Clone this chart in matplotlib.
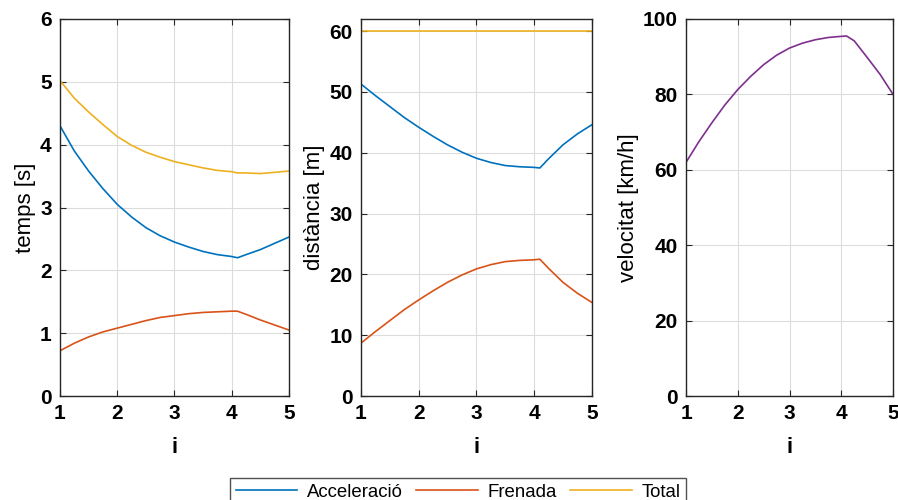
import numpy as np
import matplotlib.pyplot as plt

plt.rcParams['font.family'] = ['Liberation Sans', 'DejaVu Sans']

# valors per cada i
i_vals = [1, 1.25, 1.5, 1.75, 2, 2.25, 2.5, 2.75, 3, 3.25, 3.5, 3.75, 4, 4.1,
          4.25, 4.5, 4.75, 5]

t_acc = [4.30, 3.90, 3.58, 3.30, 3.05, 2.85, 2.68, 2.55, 2.45, 2.37, 2.30, 2.25,
         2.22, 2.20, 2.25, 2.33, 2.43, 2.53]
t_fren = [0.72, 0.84, 0.94, 1.02, 1.08, 1.14, 1.20, 1.25, 1.28, 1.31, 1.33, 1.34,
          1.35, 1.35, 1.30, 1.21, 1.13, 1.05]
t_total = [5.02, 4.74, 4.52, 4.32, 4.13, 3.99, 3.88, 3.80, 3.73, 3.68, 3.63, 3.59,
           3.57, 3.55, 3.55, 3.54, 3.56, 3.58]

d_acc = [51.3, 49.4, 47.6, 45.8, 44.2, 42.7, 41.3, 40.1, 39.1, 38.4, 37.9, 37.7,
         37.6, 37.5, 39.0, 41.3, 43.1, 44.6]
d_fren = [8.7, 10.6, 12.4, 14.2, 15.8, 17.3, 18.7, 19.9, 20.9, 21.6, 22.1, 22.3,
          22.4, 22.5, 21.0, 18.7, 16.9, 15.4]
d_total = [60, 60, 60, 60, 60, 60, 60, 60, 60, 60, 60, 60, 60, 60, 60, 60, 60, 60]

vel = [62.0, 67.5, 72.5, 77.2, 81.3, 84.8, 87.9, 90.4, 92.3, 93.6, 94.5, 95.1,
       95.4, 95.5, 94.2, 89.8, 85.3, 80.0]

c_acc = '#0072BD'
c_fren = '#D95319'
c_tot = '#EDB120'
c_vel = '#7E2F8E'

fig = plt.figure(figsize=(8.98, 5.0), dpi=100)
ax1 = fig.add_axes([0.0668, 0.208, 0.255, 0.754])
ax2 = fig.add_axes([0.402, 0.208, 0.257, 0.754])
ax3 = fig.add_axes([0.764, 0.208, 0.2305, 0.754])

l1, = ax1.plot(i_vals, t_acc, color=c_acc, lw=1.2, label='Acceleració')
l2, = ax1.plot(i_vals, t_fren, color=c_fren, lw=1.2, label='Frenada')
l3, = ax1.plot(i_vals, t_total, color=c_tot, lw=1.2, label='Total')
ax1.set_ylim(0, 6)
ax1.set_ylabel('temps [s]')

ax2.plot(i_vals, d_acc, color=c_acc, lw=1.2)
ax2.plot(i_vals, d_fren, color=c_fren, lw=1.2)
ax2.plot(i_vals, d_total, color=c_tot, lw=1.2)
ax2.set_ylim(0, 62)
ax2.set_yticks([0, 10, 20, 30, 40, 50, 60])
ax2.set_ylabel('distància [m]')

ax3.plot(i_vals, vel, color=c_vel, lw=1.2)
ax3.set_ylim(0, 100)
ax3.set_yticks([0, 20, 40, 60, 80, 100])
ax3.set_ylabel('velocitat [km/h]')

for ax in (ax1, ax2, ax3):
    ax.set_xlim(1, 5)
    ax.set_xticks([1, 2, 3, 4, 5])
    ax.set_xlabel('i', fontsize=16, fontweight='bold', labelpad=10)
    ax.yaxis.label.set_fontsize(16)
    ax.yaxis.label.set_fontweight('medium')
    ax.yaxis.labelpad = 3
    ax.grid(True, color='#dcdcdc', lw=0.8)
    ax.set_axisbelow(True)
    ax.tick_params(direction='in', top=True, right=True, length=4,
                   color='#262626', labelsize=15, pad=6)
    for lab in ax.get_xticklabels() + ax.get_yticklabels():
        lab.set_fontweight('bold')
    for sp in ax.spines.values():
        sp.set_color('#262626')
        sp.set_linewidth(1.0)

leg = fig.legend(handles=[l1, l2, l3], loc='upper center', ncol=3,
                 bbox_to_anchor=(0.51, 0.062), fontsize=13.4, frameon=True,
                 fancybox=False, edgecolor='#262626', handlelength=3.3,
                 handletextpad=0.5, columnspacing=0.75, borderpad=0.3)
leg.get_frame().set_linewidth(1.0)

fig.savefig('out.png', dpi=100)
